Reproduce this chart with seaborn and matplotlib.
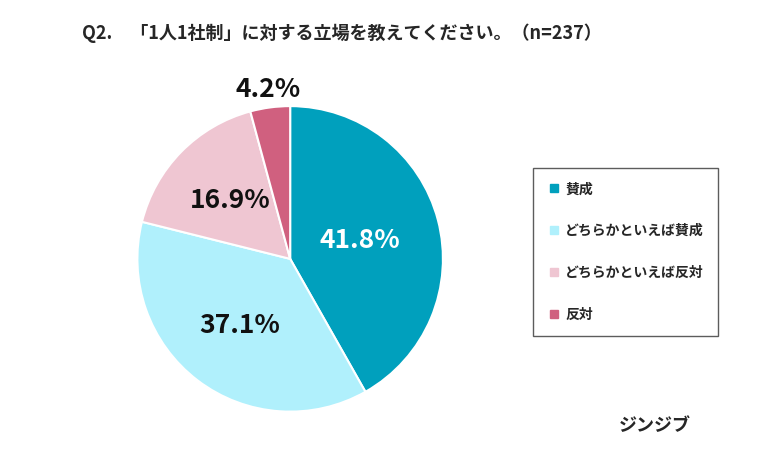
import matplotlib
matplotlib.use("Agg")
import matplotlib.pyplot as plt
import seaborn as sns
import numpy as np
from matplotlib.lines import Line2D

sns.set_theme(style="white")
plt.rcParams['font.family'] = ['Noto Sans CJK JP', 'DejaVu Sans']

categories = ["賛成", "どちらかといえば賛成", "どちらかといえば反対", "反対"]
values = [41.8, 37.1, 16.9, 4.2]
colors = ["#00a0bd", "#b0f0fc", "#efc6d2", "#d0607f"]
label_colors = ["white", "#111111", "#111111", "#111111"]

fig = plt.figure(figsize=(7.8, 4.75), dpi=100)
ax = fig.add_axes([0.372 - 0.245, 0.455 - 0.402, 0.49, 0.804])
wedges, texts, autotexts = ax.pie(values, colors=colors, startangle=90, counterclock=False,
                                  autopct=lambda p: f"{p:.1f}%", pctdistance=0.55,
                                  wedgeprops=dict(linewidth=1.5, edgecolor="white"))
for i, (w, t) in enumerate(zip(wedges, autotexts)):
    ang = np.deg2rad((w.theta1 + w.theta2) / 2)
    r = 1.12 if i == 3 else (0.47 if i == 0 else 0.55)
    t.set_position((r * np.cos(ang), r * np.sin(ang)))
    t.set_color(label_colors[i])
    t.set_fontsize(19)
    t.set_fontweight("bold")
ax.set_aspect("equal")

fig.text(0.105, 0.93, "Q2.　「1人1社制」に対する立場を教えてください。（n=237）",
         fontsize=13, fontweight="bold", va="center")
fig.text(0.84, 0.105, "ジンジブ", fontsize=13, fontweight="bold", ha="center", va="center")

handles = [Line2D([0], [0], marker="s", linestyle="", markerfacecolor=c, markeredgecolor=c,
                  markersize=6) for c in colors]
leg = fig.legend(handles, categories, loc="upper left", bbox_to_anchor=(0.675, 0.66),
                 frameon=True, fancybox=False, edgecolor="#333333", labelspacing=2.0,
                 borderpad=1.0, handletextpad=0.3, handlelength=1.0,
                 prop=dict(size=10, weight="bold"))
leg.get_frame().set_linewidth(1.0)

fig.savefig("out.png", dpi=100)
